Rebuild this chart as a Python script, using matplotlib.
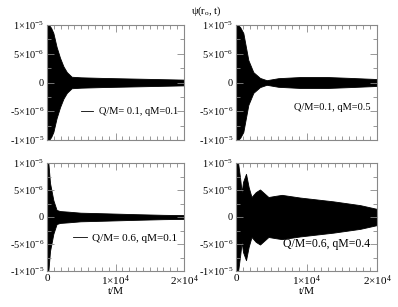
import matplotlib
matplotlib.use("Agg")
import matplotlib.pyplot as plt
from matplotlib.lines import Line2D
from matplotlib.ticker import FixedLocator, MultipleLocator, FixedFormatter
import numpy as np

plt.rcParams['font.family'] = ['Liberation Serif', 'DejaVu Serif']
plt.rcParams['mathtext.fontset'] = 'custom'
plt.rcParams['mathtext.rm'] = 'Liberation Serif'
plt.rcParams['mathtext.it'] = 'Liberation Serif:italic'

# envelope of the oscillating field
# t in units of 1e3 M, amplitude in units of 1e-6
t_a = [0, 0.3, 0.6, 0.93, 1.4, 1.9, 2.4, 2.9, 3.6, 5, 8, 12, 16, 20]
env_a = [10, 10, 9.5, 8.6, 6.2, 4.3, 2.8, 1.8, 1.0, 0.9, 0.8, 0.7, 0.6, 0.5]

t_b = [0, 0.3, 0.6, 1.04, 1.75, 2.46, 3.4, 4.35, 6, 9.1, 13, 16.2, 20]
env_b = [10, 10, 9.6, 8.6, 3.9, 1.8, 0.8, 0.4, 0.75, 0.95, 0.95, 0.8, 0.6]

t_c = [0, 0.2, 0.44, 0.93, 1.4, 1.9, 3, 4.9, 8, 12.2, 17, 20]
env_c = [10, 10, 6.3, 3.1, 1.3, 1.1, 1.0, 0.8, 0.7, 0.55, 0.4, 0.35]

t_d = [0, 0.3, 0.6, 0.8, 1.0, 1.42, 1.8, 2.2, 2.8, 3.4, 4.0, 4.6, 5.5, 6.5, 9.1, 13.8, 17.6, 20]
env_d = [10, 10, 7.0, 4.6, 6.5, 8.0, 5.5, 3.7, 4.6, 5.1, 4.4, 3.7, 3.9, 4.1, 3.6, 2.9, 2.2, 1.5]

labels = ["Q/M= 0.1, qM=0.1", "Q/M=0.1, qM=0.5",
          "Q/M= 0.6, qM=0.1", "Q/M=0.6, qM=0.4"]
show_line = [True, False, True, False]

ytick_vals = [-1e-5, -5e-6, 0, 5e-6, 1e-5]
ytick_labels = [r'-$\mathrm{1{\times}10^{-5}}$', r'-$\mathrm{5{\times}10^{-6}}$', '0',
                r'$\mathrm{5{\times}10^{-6}}$', r'$\mathrm{1{\times}10^{-5}}$']
xtick_vals = [0, 1e4, 2e4]
xtick_labels = ['0', r'$\mathrm{1{\times}10^{4}}$', r'$\mathrm{2{\times}10^{4}}$']

fig = plt.figure(figsize=(3.98, 3.07), dpi=100)
rects = [[47/398, 1-140/307, 137/398, 115/307],
         [236/398, 1-140/307, 141/398, 115/307],
         [47/398, 1-271/307, 137/398, 108/307],
         [236/398, 1-271/307, 141/398, 108/307]]
data = [(t_a, env_a), (t_b, env_b), (t_c, env_c), (t_d, env_d)]
leg_y = [0.15, 0.19, 0.2, 0.13]
leg_fs = [7.5, 7.5, 8, 8.5]

for i, (rect, (t, env)) in enumerate(zip(rects, data)):
    ax = fig.add_axes(rect)
    tt = np.array(t) * 1e3
    ee = np.array(env) * 1e-6
    ax.fill_between(tt, -ee, ee, color='black', lw=0.6, edgecolor='black')
    ax.set_xlim(0, 2e4)
    ax.set_ylim(-1e-5, 1e-5)
    for s in ax.spines.values():
        s.set_color('#888888')
        s.set_linewidth(0.8)
    ax.yaxis.set_major_locator(FixedLocator(ytick_vals))
    ax.yaxis.set_major_formatter(FixedFormatter(ytick_labels))
    ax.yaxis.set_minor_locator(MultipleLocator(2.5e-6))
    ax.xaxis.set_major_locator(FixedLocator(xtick_vals))
    ax.xaxis.set_minor_locator(MultipleLocator(1000))
    ax.tick_params(which='both', direction='in', top=True, right=True,
                   color='#888888', width=0.6, labelsize=7.5, pad=2)
    ax.tick_params(which='major', length=5)
    ax.tick_params(which='minor', length=3)
    if i < 2:
        ax.xaxis.set_major_formatter(FixedFormatter(['', '', '']))
    else:
        ax.xaxis.set_major_formatter(FixedFormatter(xtick_labels))
        ax.tick_params(axis='x', labelsize=8)
        ax.set_xlabel('t/M', fontsize=8, labelpad=-1)
    if show_line[i]:
        h = Line2D([], [], color='black', lw=0.6)
        ax.legend([h], [labels[i]], loc='lower right', bbox_to_anchor=(1.0, leg_y[i]),
                  frameon=False, fontsize=leg_fs[i], handlelength=1.2, handletextpad=0.5,
                  borderaxespad=0.2)
    else:
        h = Line2D([], [], color='none')
        ax.legend([h], [labels[i]], loc='lower right', bbox_to_anchor=(1.0, leg_y[i]),
                  frameon=False, fontsize=leg_fs[i], handlelength=0, handletextpad=0,
                  borderaxespad=0.2)

fig.text(206/398, 1-11/307, r'$\mathrm{\psi(r_o,\, t)}$', ha='center', va='center', fontsize=7.5)

fig.savefig('out.png', dpi=100, facecolor='white')
